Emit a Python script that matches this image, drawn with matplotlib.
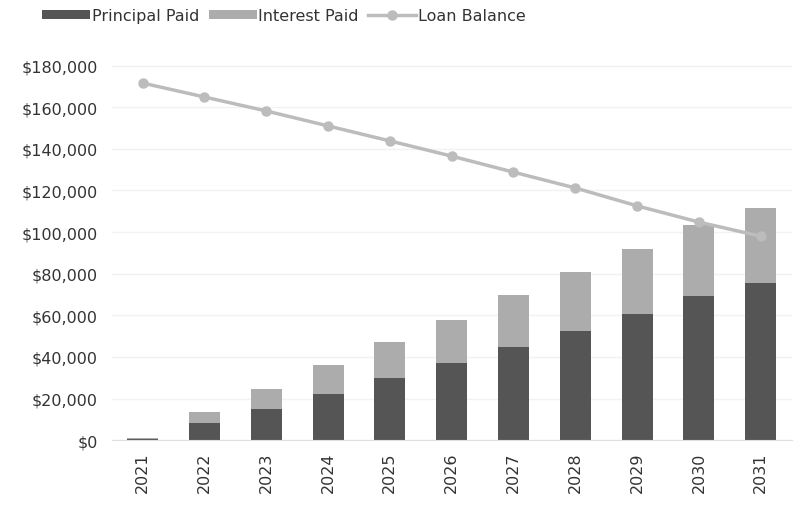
import matplotlib.pyplot as plt
from matplotlib.ticker import FuncFormatter

# Data
years = ["2021", "2022", "2023", "2024", "2025", "2026", "2027", "2028", "2029", "2030", "2031"]
principal_paid = [800, 8200, 14900, 22000, 29800, 37000, 44700, 52500, 60600, 69100, 75500]
interest_paid = [400, 5300, 9600, 14000, 17200, 21000, 25000, 28500, 31200, 34300, 35900]
loan_balance = [171600, 164900, 158200, 151000, 143800, 136500, 128800, 121200, 112600, 104800, 98000]

plt.rcParams['font.family'] = ['DejaVu Sans']

fig = plt.figure(figsize=(7.98, 5.06), dpi=100)
ax = fig.add_axes([0.140, 0.128, 0.852, 0.761])

x = list(range(len(years)))

b1 = ax.bar(x, principal_paid, width=0.5, color="#555555", label="Principal Paid", zorder=2)
b2 = ax.bar(x, interest_paid, width=0.5, bottom=principal_paid, color="#acacac",
            label="Interest Paid", zorder=2)
l1, = ax.plot(x, loan_balance, color="#bcbcbc", linewidth=2.5, marker="o", markersize=6.5,
              label="Loan Balance", zorder=3)

ax.set_xlim(-0.5, len(years) - 0.5)
ax.set_ylim(0, 185000)
ax.set_yticks(range(0, 180001, 20000))
ax.yaxis.set_major_formatter(FuncFormatter(lambda v, p: "${:,.0f}".format(v)))
ax.set_xticks(x)
ax.set_xticklabels(years, rotation=90)

ax.grid(axis="y", color="#f2f2f2", linewidth=1, zorder=0)
for s in ["top", "right", "left"]:
    ax.spines[s].set_visible(False)
ax.spines["bottom"].set_color("#e0e0e0")
ax.tick_params(axis="both", length=0, labelsize=11.5, colors="#333333")
ax.tick_params(axis="y", pad=10)
ax.tick_params(axis="x", pad=8)

fig.legend([b1, b2, l1], ["Principal Paid", "Interest Paid", "Loan Balance"],
           loc="upper left", bbox_to_anchor=(0.035, 1.01), ncol=3, frameon=False,
           fontsize=11.5, handlelength=3.0, handleheight=0.5, handletextpad=0.1,
           columnspacing=0.6, labelcolor="#333333")

plt.savefig("out.png", dpi=100)
